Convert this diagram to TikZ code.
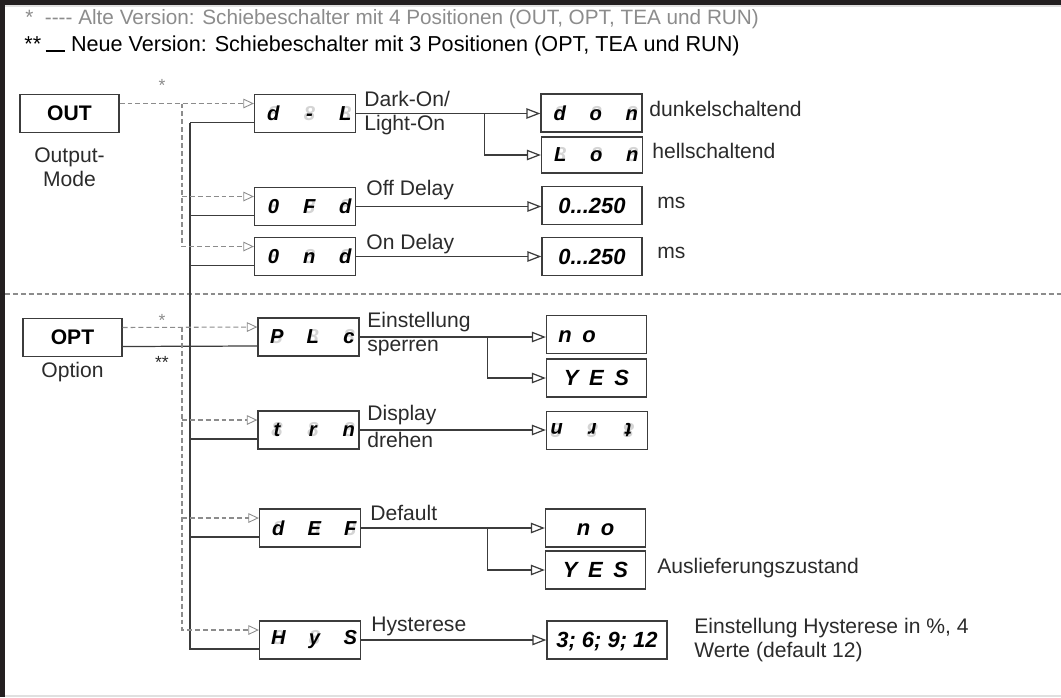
\documentclass[tikz,border=0pt]{standalone}
\usepackage{fontspec}
\setmainfont{Liberation Sans}
\usetikzlibrary{arrows.meta, calc}
\definecolor{cLine}{HTML}{3C3C3C}
\definecolor{cOld}{HTML}{8C8C8C}
\definecolor{cText}{HTML}{2B2B2B}
\definecolor{cFrame}{HTML}{231F20}
\definecolor{cGhost}{HTML}{D4D4D4}
\tikzset{
    box/.style     ={draw=cLine, line width=0.75pt, inner sep=0pt, text=black,
                     font=\fontsize{12}{14}\selectfont\bfseries},
    modebox/.style ={box, minimum width=1.98cm, minimum height=0.76cm},
    dispbox/.style ={box, minimum width=2.02cm, minimum height=0.76cm},
    valbox/.style  ={box, minimum width=2cm, minimum height=0.76cm,
                     text height=8.6pt, text depth=0pt,
                     font=\fontsize{12.5}{14}\selectfont\bfseries\itshape},
    lbl/.style     ={anchor=west, inner sep=0pt, text=cText,
                     font=\fontsize{12}{14}\selectfont},
    star/.style    ={inner sep=0pt, text=cOld, font=\fontsize{10}{12}\selectfont},
    wire/.style    ={draw=cLine, line width=0.7pt},
    go/.style      ={wire, -{Triangle[open, length=8pt, width=6pt]}},
    oldwire/.style ={draw=cOld, line width=0.6pt, dash pattern=on 2.8pt off 1.7pt},
    oldgo/.style   ={oldwire, -{Triangle[open, length=6pt, width=5.5pt, line width=0.5pt]}},
}
\newcommand{\seg}[1]{\makebox[20.5pt]{\makebox[0pt]{\textcolor{cGhost}{8}}\makebox[0pt]{#1}}}
\newcommand{\disp}[3]{{\fontsize{11.5}{11.5}\selectfont\bfseries\itshape
    \makebox[0pt]{\hspace{5pt}\seg{#1}\seg{#2}\seg{#3}}}}

\begin{document}
\begin{tikzpicture}[x=0.02cm, y=-0.02cm]
\useasboundingbox (0,0) rectangle (1061,697);

% ===================== Rahmen =====================
\fill[cFrame] (0,0) rectangle (1061,5);
\fill[cFrame] (0,0) rectangle (5,697);
\fill[black!12] (5,5) rectangle (1061,6.5);
\fill[black!12] (5,694.5) rectangle (1061,697);

% ===================== Legende =====================
\node[lbl, text=cOld, font=\fontsize{11.8}{14}\selectfont] (oldnote) at (25,19)
     {*\ \ -\kern0pt-\kern0pt-\kern0pt-\ Alte Version: Schiebeschalter mit 4 Positionen (OUT, OPT, TEA und RUN)};
\node[lbl, text=black, font=\fontsize{12.3}{14}\selectfont] (newnote) at (24,46)
     {**\hspace{2.5pt}\rule{11pt}{0.7pt}\hspace{3.5pt}Neue Version: Schiebeschalter mit 3 Positionen (OPT, TEA und RUN)};

\draw[oldwire, line width=1.1pt] (5,294) -- (1061,294);

% ===================== Schalterstellungen =====================
\node[modebox] (out) at (69.5,113.5) {OUT};
\node[lbl, anchor=north, align=center] (outtxt) at (69.5,147) {Output-\\Mode};
\node[modebox] (opt) at (72.5,337.5) {OPT};
\node[lbl, anchor=north] (opttxt) at (72.5,362) {Option};

\node[star] (s1) at (162,85) {*};
\node[star] (s2) at (162,320) {*};
\node[star, text=cText] (s3) at (162,362) {**};

% ===================== Menuepunkte =====================
\node[dispbox] (dL)  at (305,113.5) {\disp{d}{-}{L}};
\node[dispbox] (OFd) at (305,206.5) {\disp{0}{F}{d}};
\node[dispbox] (Ond) at (305,256.5) {\disp{0}{n}{d}};
\node[dispbox] (PLc) at (308.5,337) {\disp{P}{L}{c}};
\node[dispbox] (trn) at (308.5,430) {\disp{t}{r}{n}};
\node[dispbox] (dEF) at (310,528)   {\disp{d}{E}{F}};
\node[dispbox] (HyS) at (310,640)   {\disp{H}{y}{S}};

% ===================== Werte =====================
\node[dispbox] (don) at (591.5,113) {\disp{d}{o}{n}};
\node[dispbox, minimum height=0.72cm] (Lon) at (592,155) {\disp{L}{o}{n}};
\node[valbox] (offv) at (592,205.5) {0...250};
\node[valbox] (onv)  at (592,256.5) {0...250};
\node[valbox] (pno)  at (596.5,334.5) {\hspace*{-22pt}n\hspace{6pt}o};
\node[valbox] (pyes) at (596.5,378) {Y\hspace{6pt}E\hspace{6pt}S};
\node[dispbox] (rot) at (597,430.5) {\rotatebox[origin=c]{180}{\disp{t}{r}{n}}};
\node[valbox] (dno)  at (595.5,528) {n\hspace{6pt}o};
\node[valbox] (dyes) at (595.5,570) {Y\hspace{6pt}E\hspace{6pt}S};
\node[valbox, minimum width=2.4cm] (hys) at (607,640) {3; 6; 9; 12};

% ===================== Beschriftungen =====================
\node[lbl] (dLa)  at (364,99)  {Dark-On/};
\node[lbl] (dLb)  at (364,125) {Light-On};
\node[lbl] (donl) at (649,109) {dunkelschaltend};
\node[lbl] (lonl) at (652,151) {hellschaltend};
\node[lbl] (OFdl) at (366,190) {Off Delay};
\node[lbl] (offu) at (657,203) {ms};
\node[lbl] (Ondl) at (366,244) {On Delay};
\node[lbl] (onu)  at (657,253) {ms};
\node[lbl] (PLca) at (367,322) {Einstellung};
\node[lbl] (PLcb) at (367,348) {sperren};
\node[lbl] (trna) at (367,415) {Display};
\node[lbl] (trnb) at (367,440) {drehen};
\node[lbl] (dEFl) at (370,513) {Default};
\node[lbl] (dyesl) at (657,568) {Auslieferungszustand};
\node[lbl] (HySl) at (371,626) {Hysterese};
\node[lbl, align=left] (hysl) at (694,640)
     {Einstellung Hysterese in \%, 4\\Werte (default 12)};

% ===================== Verbindungen rechts =====================
\draw[go] (dL.east) -- (dL.east -| don.west);
\draw[go] (dL.east) ++(128,0) |- (Lon.west);
\draw[go] (OFd.east) -- (OFd.east -| offv.west);
\draw[go] (Ond.east) -- (Ond.east -| onv.west);
\draw[go] (PLc.east) -- (PLc.east -| pno.west);
\draw[go] (PLc.east) ++(128,0) |- (pyes.west);
\draw[go] (trn.east) -- (trn.east -| rot.west);
\draw[go] (dEF.east) -- (dEF.east -| dno.west);
\draw[go] (dEF.east) ++(126,0) |- (dyes.west);
\draw[go] (HyS.east) -- (HyS.east -| hys.west);

% ===================== Verbindungen links =====================
\coordinate (bus) at (190,0);
\coordinate (oldbus) at (182,0);
\foreach \n in {dL,OFd,Ond,PLc,trn,dEF,HyS}{
    \coordinate (\n-old) at ([yshift=0.2cm]\n.west);
    \coordinate (\n-new) at ([yshift=-0.18cm]\n.west);
}
% neue Version
\draw[wire] (bus |- dL-new) -- (dL-new);
\draw[wire] (bus |- dL-new) |- (HyS-new);
\foreach \n in {OFd,Ond,trn,dEF}
    \draw[wire] (bus |- \n-new) -- (\n-new);
\draw[wire] ([yshift=-0.18cm]opt.east) -- (PLc-new);
% alte Version
\draw[oldgo] ([yshift=0.2cm]out.east) -- (dL-old);
\draw[oldgo] (oldbus |- dL-old) |- (Ond-old);
\draw[oldgo] (oldbus |- OFd-old) -- (OFd-old);
\draw[oldgo] ([yshift=0.2cm]opt.east) -- (PLc-old);
\draw[oldgo] (oldbus |- PLc-old) |- (HyS-old);
\foreach \n in {trn,dEF}
    \draw[oldgo] (oldbus |- \n-old) -- (\n-old);

\end{tikzpicture}
\end{document}
